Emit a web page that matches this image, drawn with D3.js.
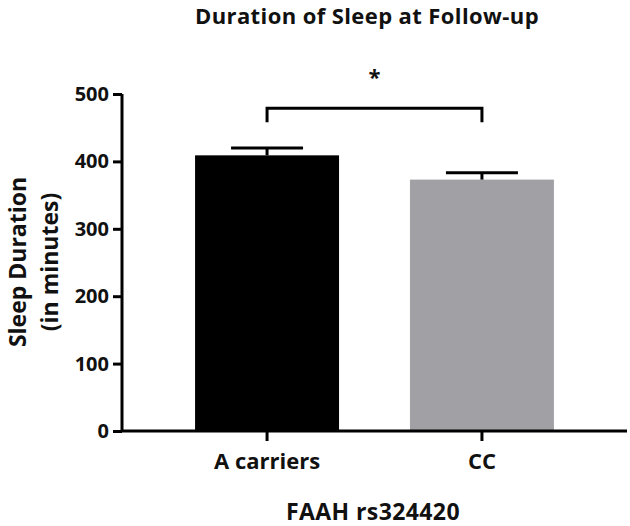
<!DOCTYPE html>
<html>
<head>
<meta charset="utf-8">
<script src="https://cdn.jsdelivr.net/npm/d3@7"></script>
<style>
  body { margin: 0; background: #fff; }
  svg { display: block; font-family: "Open Sans", sans-serif; font-weight: bold; }
</style>
</head>
<body>
<svg id="chart"></svg>
<script>
const groups = ["A carriers", "CC"];
const means = [409, 373];
const sems = [11, 10];
const barColors = ["#000000", "#a1a1a5"];
const yTicks = [0, 100, 200, 300, 400, 500];
const bracketY = 479;
const bracketDrop = 458;

const width = 630;
const height = 526;

const svg = d3.select("#chart")
  .attr("width", width)
  .attr("height", height);

const x = d3.scaleBand()
  .domain(groups)
  .range([122, 627])
  .paddingInner(0.33)
  .paddingOuter(0.34);

const y = d3.scaleLinear()
  .domain([0, 500])
  .range([431, 94]);

// bars
svg.selectAll("rect.bar")
  .data(groups)
  .enter()
  .append("rect")
  .attr("class", "bar")
  .attr("x", d => x(d))
  .attr("width", x.bandwidth())
  .attr("y", (d, i) => y(means[i]))
  .attr("height", (d, i) => y(0) - y(means[i]))
  .attr("fill", (d, i) => barColors[i]);

// error bars (upper only)
const capHalf = x.bandwidth() / 4;
const err = svg.append("g")
  .attr("stroke", "#000")
  .attr("stroke-width", 3);
groups.forEach((g, i) => {
  const cx = x(g) + x.bandwidth() / 2;
  err.append("line")
    .attr("x1", cx).attr("x2", cx)
    .attr("y1", y(means[i])).attr("y2", y(means[i] + sems[i]));
  err.append("line")
    .attr("x1", cx - capHalf).attr("x2", cx + capHalf)
    .attr("y1", y(means[i] + sems[i])).attr("y2", y(means[i] + sems[i]));
});

// axes
const yAxis = svg.append("g")
  .attr("transform", "translate(122,0)")
  .call(d3.axisLeft(y).tickValues(yTicks).tickSize(9).tickPadding(4));
const xAxis = svg.append("g")
  .attr("transform", "translate(0,431)")
  .call(d3.axisBottom(x).tickSize(10).tickPadding(12).tickSizeOuter(0));

[yAxis, xAxis].forEach(a => {
  a.attr("font-family", null).attr("font-size", null);
  a.select(".domain").attr("stroke", "#000").attr("stroke-width", 3);
  a.selectAll(".tick line").attr("stroke", "#000").attr("stroke-width", 3);
  a.selectAll("text").attr("fill", "#111");
});
yAxis.select(".domain").attr("d", "M0,431V94");
xAxis.select(".domain").attr("d", "M122,0H627");
yAxis.selectAll("text").style("font-size", "20px");
xAxis.selectAll("text").style("font-size", "22px");

// significance bracket
const x1 = x(groups[0]) + x.bandwidth() / 2;
const x2 = x(groups[1]) + x.bandwidth() / 2;
svg.append("path")
  .attr("d", `M${x1},${y(bracketDrop)}V${y(bracketY)}H${x2}V${y(bracketDrop)}`)
  .attr("fill", "none")
  .attr("stroke", "#000")
  .attr("stroke-width", 3);
svg.append("text")
  .attr("x", (x1 + x2) / 2)
  .attr("y", 85)
  .attr("text-anchor", "middle")
  .style("font-size", "22px")
  .attr("fill", "#111")
  .text("*");

// titles
svg.append("text")
  .attr("x", 367)
  .attr("y", 24)
  .attr("text-anchor", "middle")
  .style("font-size", "22px")
  .style("letter-spacing", "0.4px")
  .attr("fill", "#111")
  .text("Duration of Sleep at Follow-up");

svg.append("text")
  .attr("x", 373)
  .attr("y", 520)
  .attr("text-anchor", "middle")
  .style("font-size", "23px")
  .style("letter-spacing", "0.4px")
  .attr("fill", "#111")
  .text("FAAH rs324420");

const yLabel = svg.append("text")
  .attr("transform", "translate(0,262) rotate(-90)")
  .attr("text-anchor", "middle")
  .style("font-size", "23px")
  .attr("fill", "#111");
yLabel.append("tspan").attr("x", 0).attr("y", 26).text("Sleep Duration");
yLabel.append("tspan").attr("x", 0).attr("y", 58).text("(in minutes)");
</script>
</body>
</html>
